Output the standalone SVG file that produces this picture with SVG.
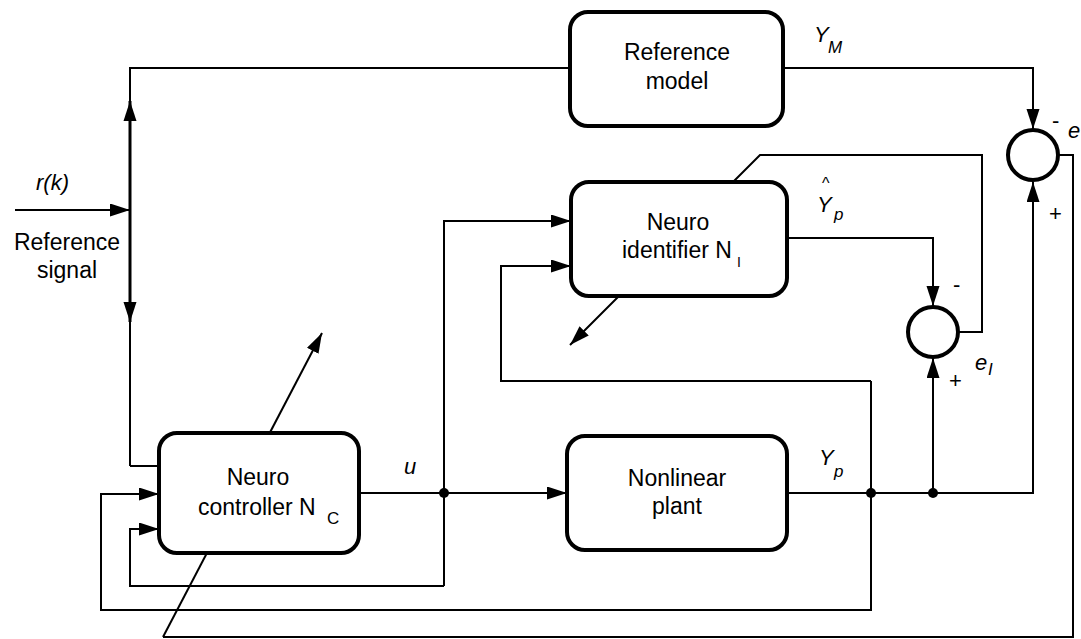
<svg xmlns="http://www.w3.org/2000/svg" width="1081" height="639" viewBox="0 0 1081 639">
<style>
.ln{fill:none;stroke:#000;stroke-width:2}
.box{fill:#fff;stroke:#000;stroke-width:4}
.sum{fill:#fff;stroke:#000;stroke-width:4}
.t{font-family:"Liberation Sans",Arial,sans-serif;font-size:23px;fill:#000}
.sub{font-family:"Liberation Sans",Arial,sans-serif;font-size:17px;fill:#000}
.subI{font-family:"Liberation Sans",Arial,sans-serif;font-size:14px;fill:#000}
.i{font-family:"Liberation Sans",Arial,sans-serif;font-size:22px;font-style:italic;fill:#000}
.s{font-family:"Liberation Sans",Arial,sans-serif;font-size:17px;font-style:italic;fill:#000}
.m{font-family:"Liberation Sans",Arial,sans-serif;font-size:22px;fill:#000}
.hat{font-family:"Liberation Sans",Arial,sans-serif;font-size:16px;fill:#000}
</style>
<defs>
<marker id="ah" markerUnits="userSpaceOnUse" markerWidth="21" markerHeight="14" refX="20" refY="6.5" orient="auto">
<path d="M0,0 L20,6.5 L0,13 z" fill="#000"/>
</marker>
<marker id="as" markerUnits="userSpaceOnUse" markerWidth="21" markerHeight="14" refX="0" refY="6.5" orient="auto">
<path d="M20,0 L0,6.5 L20,13 z" fill="#000"/>
</marker>
</defs>
<g id="connectors">
<path class="ln" d="M15,210 H130" marker-end="url(#ah)"/>
<path class="ln" d="M130,466 V68 H570"/>
<path d="M130,101 V322" fill="none" stroke="#000" stroke-width="3" marker-start="url(#as)" marker-end="url(#ah)"/>
<path class="ln" d="M130,466 H159"/>
<path class="ln" d="M783,68 H1033 V129" marker-end="url(#ah)"/>
<path class="ln" d="M1059,155 H1073 V637 H163"/>
<path class="ln" d="M163,637 L322,333" marker-end="url(#ah)"/>
<path class="ln" d="M359,493 H567" marker-end="url(#ah)"/>
<path class="ln" d="M444,586 V221 H571" marker-end="url(#ah)"/>
<path class="ln" d="M444,586 H130 V529 H159" marker-end="url(#ah)"/>
<path class="ln" d="M787,493 H1033 V182" marker-end="url(#ah)"/>
<path class="ln" d="M933,493 V358" marker-end="url(#ah)"/>
<path class="ln" d="M871,381 V610 H101 V494 H159" marker-end="url(#ah)"/>
<path class="ln" d="M871,381 H501 V266 H571" marker-end="url(#ah)"/>
<path class="ln" d="M787,238 H933 V306" marker-end="url(#ah)"/>
<path class="ln" d="M959,332 H982 V155 H760 L570,345" marker-end="url(#ah)"/>
<circle cx="444" cy="493" r="5" fill="#000"/>
<circle cx="871" cy="493" r="5" fill="#000"/>
<circle cx="933" cy="493" r="5" fill="#000"/>
</g>
<g id="reference-model">
<rect class="box" x="570" y="12" width="213" height="114" rx="18"/>
<text class="t" x="677" y="60" text-anchor="middle">Reference</text>
<text class="t" x="677" y="89" text-anchor="middle">model</text>
</g>
<g id="neuro-identifier">
<rect class="box" x="571" y="182" width="216" height="114" rx="18"/>
<text class="t" x="678" y="230" text-anchor="middle">Neuro</text>
<text class="t" x="622" y="258">identifier N</text>
<text class="subI" x="737" y="267">I</text>
</g>
<g id="neuro-controller">
<rect class="box" x="159" y="433" width="200" height="120" rx="18"/>
<text class="t" x="258" y="485" text-anchor="middle">Neuro</text>
<text class="t" x="198" y="515">controller N</text>
<text class="sub" x="327" y="524">C</text>
</g>
<g id="nonlinear-plant">
<rect class="box" x="567" y="436" width="220" height="114" rx="18"/>
<text class="t" x="677" y="486" text-anchor="middle">Nonlinear</text>
<text class="t" x="677" y="514" text-anchor="middle">plant</text>
</g>
<g id="sum-e">
<circle class="sum" cx="1033" cy="155" r="25"/>
<text class="m" x="1052" y="128">-</text>
<text class="m" x="1049" y="221">+</text>
</g>
<g id="sum-eI">
<circle class="sum" cx="933" cy="332" r="25"/>
<text class="m" x="953" y="292">-</text>
<text class="m" x="949" y="388">+</text>
</g>
<g id="labels">
<text class="i" x="36" y="190">r(k)</text>
<text class="t" x="67" y="250" text-anchor="middle">Reference</text>
<text class="t" x="67" y="278" text-anchor="middle">signal</text>
<text class="i" x="814" y="42">Y</text>
<text class="s" x="828" y="53">M</text>
<text class="i" x="1068" y="138">e</text>
<text class="hat" x="822" y="189">^</text>
<text class="i" x="817" y="212">Y</text>
<text class="s" x="834" y="220">p</text>
<text class="i" x="975" y="370">e</text>
<text class="s" x="988" y="375">I</text>
<text class="i" x="404" y="474">u</text>
<text class="i" x="819" y="465">Y</text>
<text class="s" x="834" y="477">p</text>
</g>
</svg>
